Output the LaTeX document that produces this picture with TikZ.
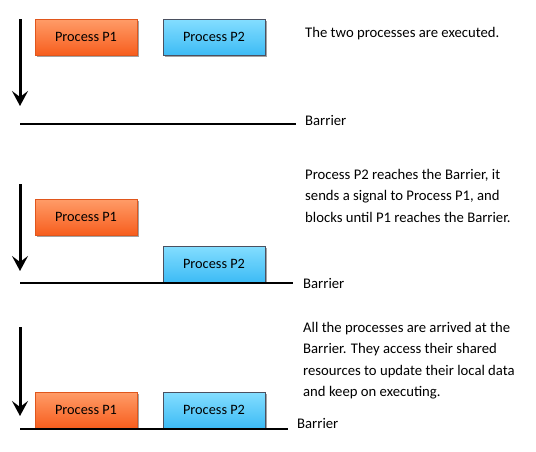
\documentclass[tikz,border=0pt]{standalone}
\usepackage{fontspec}
\setmainfont{Carlito}
\usetikzlibrary{arrows.meta,shadows}
\definecolor{orTop}{HTML}{FF9C68}
\definecolor{orBot}{HTML}{F75E1E}
\definecolor{orEdge}{HTML}{E0561C}
\definecolor{blTop}{HTML}{84DEFF}
\definecolor{blBot}{HTML}{3DBBF5}
\definecolor{blEdge}{HTML}{4A5060}
\tikzset{
  procbase/.style={minimum width=102pt,minimum height=36pt,inner sep=0pt,
    font=\fontsize{14.3}{16}\selectfont, line width=0.8pt,
    drop shadow={shadow xshift=1.5pt,shadow yshift=-1.5pt,fill=black!45,opacity=0.8}},
  procA/.style={procbase,draw=orEdge,top color=orTop,bottom color=orBot},
  procB/.style={procbase,draw=blEdge,top color=blTop,bottom color=blBot},
  timeline/.style={line width=3pt,-{Stealth[length=15pt,width=16pt,inset=6pt]}},
  barrierline/.style={line width=2.5pt},
  lbl/.style={anchor=base west,inner sep=0pt,font=\fontsize{14.7}{21.5}\selectfont,align=left},
}
\begin{document}
\begin{tikzpicture}[x=1pt,y=-1pt]
\useasboundingbox (0,0) rectangle (536,451);
% Panel 1
\coordinate (t1s) at (20,19);
\coordinate (t1e) at (20,106);
\draw[timeline] (t1s) -- (t1e);
\node[procA] (p1a) at (86,37) {Process P1};
\node[procB] (p2a) at (214,37) {Process P2};
\coordinate (b1s) at (20,124);
\coordinate (b1e) at (296,124);
\draw[barrierline] (b1s) -- (b1e);
\node[lbl] (bl1) at (305,125) {Barrier};
\node[lbl] (tx1) at (305,37) {The two processes are executed.};
% Panel 2
\coordinate (t2s) at (20,184);
\coordinate (t2e) at (20,271);
\draw[timeline] (t2s) -- (t2e);
\node[procA] (p1b) at (86,217) {Process P1};
\node[procB] (p2b) at (214,264) {Process P2};
\coordinate (b2s) at (20,283);
\coordinate (b2e) at (293,283);
\draw[barrierline] (b2s) -- (b2e);
\node[lbl] (bl2) at (303,288) {Barrier};
\node[lbl] (tx2) at (305,222) {Process P2 reaches the Barrier, it\\sends a signal to Process P1, and\\blocks until P1 reaches the Barrier.};
% Panel 3
\coordinate (t3s) at (20,327);
\coordinate (t3e) at (20,416);
\draw[timeline] (t3s) -- (t3e);
\node[procA] (p1c) at (86,410) {Process P1};
\node[procB] (p2c) at (214,410) {Process P2};
\coordinate (b3s) at (20,429);
\coordinate (b3e) at (288,429);
\draw[barrierline] (b3s) -- (b3e);
\node[lbl] (bl3) at (297,428) {Barrier};
\node[lbl] (tx3) at (303,396.5) {All the processes are arrived at the\\Barrier. They access their shared\\resources to update their local data\\and keep on executing.};
\end{tikzpicture}
\end{document}
